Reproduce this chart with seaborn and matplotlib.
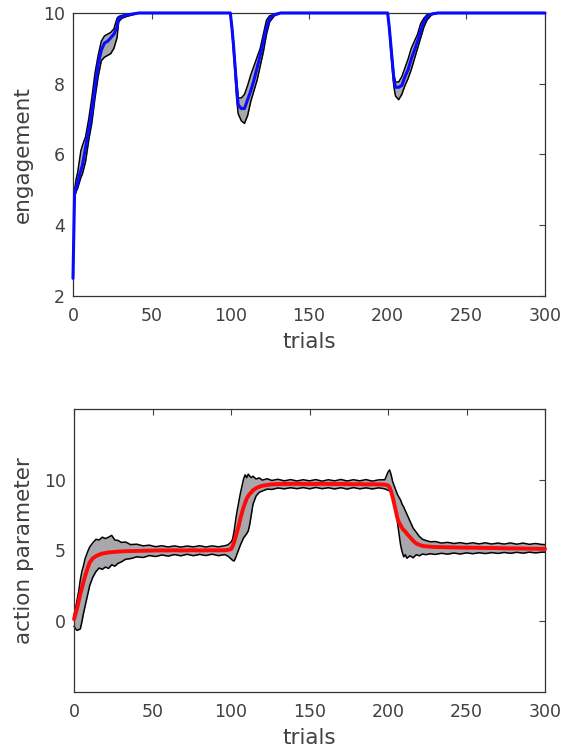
import numpy as np
import pandas as pd
import matplotlib
matplotlib.use("Agg")
import matplotlib.pyplot as plt
import seaborn as sns

# --- top panel: engagement (mean + band) ---
eng_trial = [0, 1, 2, 3, 4, 5, 6, 8, 10, 12,
             14, 16, 18, 20, 22, 24, 26, 28, 29, 31,
             34, 38, 42, 100, 101, 102, 103, 104, 105, 107,
             109, 111, 113, 115, 117, 119, 121, 123, 125, 128,
             132, 200, 201, 202, 203, 204, 205, 207, 209, 211,
             213, 215, 217, 219, 221, 223, 225, 228, 232, 300]
eng_mean = [2.5, 4.9, 5.05, 5.2, 5.4, 5.55, 5.7, 6.2, 6.7, 7.2,
            7.9, 8.55, 8.95, 9.15, 9.2, 9.3, 9.4, 9.6, 9.85, 9.9,
            9.94, 9.97, 10.0, 10.0, 9.6, 9.1, 8.5, 7.9, 7.4, 7.3,
            7.3, 7.55, 7.8, 8.1, 8.45, 8.8, 9.2, 9.6, 9.85, 9.95,
            10.0, 10.0, 9.6, 9.1, 8.6, 8.1, 7.9, 7.9, 7.95, 8.2,
            8.4, 8.7, 8.95, 9.2, 9.5, 9.75, 9.9, 9.97, 10.0, 10.0]
eng_upper = [2.5, 5.0, 5.3, 5.5, 5.8, 6.1, 6.25, 6.5, 7.0, 7.6,
             8.3, 8.8, 9.2, 9.35, 9.4, 9.45, 9.55, 9.85, 9.9, 9.93,
             9.96, 9.98, 10.0, 10.0, 9.65, 9.2, 8.6, 8.1, 7.6, 7.6,
             7.7, 7.95, 8.25, 8.5, 8.75, 9.0, 9.4, 9.8, 9.92, 9.97,
             10.0, 10.0, 9.65, 9.2, 8.7, 8.25, 8.05, 8.05, 8.2, 8.45,
             8.7, 9.0, 9.2, 9.4, 9.7, 9.85, 9.95, 9.98, 10.0, 10.0]
eng_lower = [2.5, 4.8, 4.95, 5.05, 5.2, 5.35, 5.45, 5.8, 6.4, 6.9,
             7.6, 8.2, 8.65, 8.75, 8.8, 8.85, 9.0, 9.3, 9.75, 9.85,
             9.9, 9.95, 10.0, 10.0, 9.5, 8.9, 8.3, 7.6, 7.15, 6.95,
             6.88, 7.1, 7.5, 7.8, 8.1, 8.5, 8.9, 9.4, 9.75, 9.92,
             10.0, 10.0, 9.5, 8.9, 8.4, 7.9, 7.65, 7.55, 7.7, 7.95,
             8.15, 8.4, 8.7, 9.0, 9.3, 9.6, 9.8, 9.95, 10.0, 10.0]

# --- bottom panel: action parameter (mean + band) ---
act_trial = [0, 1, 2, 3, 4, 5, 6, 7, 8, 9,
             10, 12, 14, 16, 18, 20, 22, 24, 26, 28,
             30, 33, 36, 40, 44, 48, 52, 56, 60, 64,
             68, 72, 76, 80, 84, 88, 92, 96, 98, 100,
             101, 102, 103, 104, 105, 106, 107, 108, 109, 110,
             111, 112, 113, 114, 116, 118, 120, 123, 126, 130,
             134, 138, 142, 146, 150, 154, 158, 162, 166, 170,
             174, 178, 182, 186, 190, 194, 198, 200, 201, 202,
             203, 204, 205, 206, 207, 208, 209, 210, 211, 212,
             214, 216, 218, 220, 222, 224, 227, 230, 234, 238,
             242, 246, 250, 254, 258, 262, 266, 270, 274, 278,
             282, 286, 290, 294, 298, 300]
act_mean = [0.1, 0.5, 0.9, 1.4, 1.9, 2.3, 2.75, 3.15, 3.5, 3.85,
            4.15, 4.45, 4.6, 4.7, 4.78, 4.82, 4.86, 4.88, 4.9, 4.92,
            4.93, 4.95, 4.96, 4.97, 4.98, 4.99, 5.0, 5.01, 5.0, 5.02,
            5.0, 5.01, 5.02, 5.0, 5.01, 5.02, 5.01, 5.02, 5.04, 5.1,
            5.3, 5.6, 6.0, 6.4, 6.8, 7.3, 7.7, 8.1, 8.4, 8.7,
            8.9, 9.05, 9.15, 9.3, 9.45, 9.55, 9.62, 9.68, 9.72, 9.74,
            9.75, 9.75, 9.76, 9.75, 9.74, 9.75, 9.76, 9.75, 9.74, 9.75,
            9.74, 9.73, 9.74, 9.72, 9.73, 9.72, 9.7, 9.65, 9.5, 9.2,
            8.8, 8.3, 7.8, 7.3, 7.0, 6.8, 6.6, 6.45, 6.35, 6.2,
            5.95, 5.7, 5.5, 5.4, 5.33, 5.3, 5.27, 5.25, 5.24, 5.23,
            5.22, 5.21, 5.2, 5.2, 5.19, 5.18, 5.18, 5.17, 5.16, 5.15,
            5.15, 5.14, 5.13, 5.13, 5.12, 5.12]
act_upper = [0.4, 0.9, 1.5, 2.1, 2.9, 3.5, 3.9, 4.4, 4.7, 5.0,
             5.25, 5.55, 5.8, 5.75, 5.95, 5.85, 5.95, 6.08, 5.75, 5.72,
             5.58, 5.6, 5.42, 5.45, 5.33, 5.38, 5.27, 5.34, 5.25, 5.33,
             5.24, 5.32, 5.26, 5.34, 5.25, 5.33, 5.26, 5.34, 5.4, 5.6,
             5.8, 6.4, 7.2, 7.9, 8.5, 9.1, 9.6, 10.1, 10.4, 10.2,
             10.45, 10.3, 10.2, 10.3, 10.1, 10.18, 10.02, 10.12, 10.0, 10.08,
             9.97, 10.06, 9.96, 10.05, 9.97, 10.06, 9.95, 10.05, 9.97, 10.07,
             9.96, 10.05, 9.97, 10.06, 9.95, 10.04, 10.05, 10.6, 10.75, 10.4,
             9.9, 9.6, 9.3, 9.0, 8.8, 8.6, 8.3, 8.1, 7.85, 7.6,
             7.1, 6.6, 6.3, 6.0, 5.8, 5.72, 5.62, 5.64, 5.53, 5.58,
             5.5, 5.56, 5.48, 5.55, 5.47, 5.55, 5.46, 5.53, 5.46, 5.54,
             5.45, 5.53, 5.44, 5.5, 5.43, 5.42]
act_lower = [-0.4, -0.6, -0.7, -0.65, -0.6, -0.1, 0.5, 1.0, 1.5, 2.0,
             2.5, 3.1, 3.5, 3.75, 3.65, 3.82, 3.72, 3.98, 3.88, 4.08,
             4.18, 4.38, 4.42, 4.55, 4.5, 4.64, 4.57, 4.68, 4.6, 4.71,
             4.62, 4.73, 4.63, 4.72, 4.64, 4.74, 4.63, 4.71, 4.6, 4.4,
             4.3, 4.25, 4.5, 4.8, 5.1, 5.4, 5.65, 5.9, 6.05, 6.2,
             6.4, 6.9, 7.6, 8.3, 8.9, 9.15, 9.25, 9.38, 9.36, 9.46,
             9.4, 9.48, 9.41, 9.49, 9.4, 9.5, 9.41, 9.48, 9.39, 9.48,
             9.38, 9.49, 9.4, 9.47, 9.39, 9.47, 9.4, 9.3, 9.25, 9.3,
             8.9, 8.4, 7.8, 7.0, 6.2, 5.4, 4.9, 4.55, 4.7, 4.45,
             4.62, 4.48, 4.7, 4.62, 4.75, 4.7, 4.77, 4.72, 4.8, 4.74,
             4.82, 4.75, 4.83, 4.77, 4.84, 4.78, 4.85, 4.79, 4.86, 4.8,
             4.87, 4.81, 4.88, 4.83, 4.88, 4.88]

sns.set_style("white")
plt.rcParams['font.family'] = ['DejaVu Sans']
text_col = "#404040"

fig = plt.figure(figsize=(5.72, 7.54), dpi=100)
ax1 = fig.add_axes([0.1276, 0.6074, 0.8252, 0.3754])
ax2 = fig.add_axes([0.1294, 0.0822, 0.8234, 0.3754])

band_col = "#a8a8ac"


def draw_panel(ax, x, mean, upper, lower, colour, lw):
    ax.fill_between(x, lower, upper, color=band_col, lw=0, zorder=1)
    sns.lineplot(x=x, y=upper, ax=ax, color="black", lw=1.1, zorder=2)
    sns.lineplot(x=x, y=lower, ax=ax, color="black", lw=1.1, zorder=2)
    sns.lineplot(x=x, y=mean, ax=ax, color=colour, lw=lw, zorder=3)
    for ln in ax.lines:
        ln.set_clip_on(False)
    ax.set_xlim(0, 300)
    ax.set_xticks(range(0, 301, 50))
    ax.set_xlabel("trials", fontsize=15.5, color=text_col, labelpad=5)
    ax.tick_params(direction="in", length=4, top=True, right=True,
                   labelsize=12.5, colors=text_col, width=0.8)
    ax.tick_params(axis="x", pad=8)
    ax.tick_params(axis="y", pad=6)
    for sp in ax.spines.values():
        sp.set_color("#333333")
        sp.set_linewidth(0.9)


draw_panel(ax1, eng_trial, eng_mean, eng_upper, eng_lower, "#0a0aff", 2.2)
ax1.set_ylim(2, 10)
ax1.set_yticks([2, 4, 6, 8, 10])
ax1.set_ylabel("engagement", fontsize=15.5, color=text_col, labelpad=7)

draw_panel(ax2, act_trial, act_mean, act_upper, act_lower, "#ff0a0a", 2.8)
ax2.set_ylim(-5.1, 15.1)
ax2.set_yticks([0, 5, 10])
ax2.set_ylabel("action parameter", fontsize=15.5, color=text_col, labelpad=7)

fig.savefig("out.png", dpi=100)
